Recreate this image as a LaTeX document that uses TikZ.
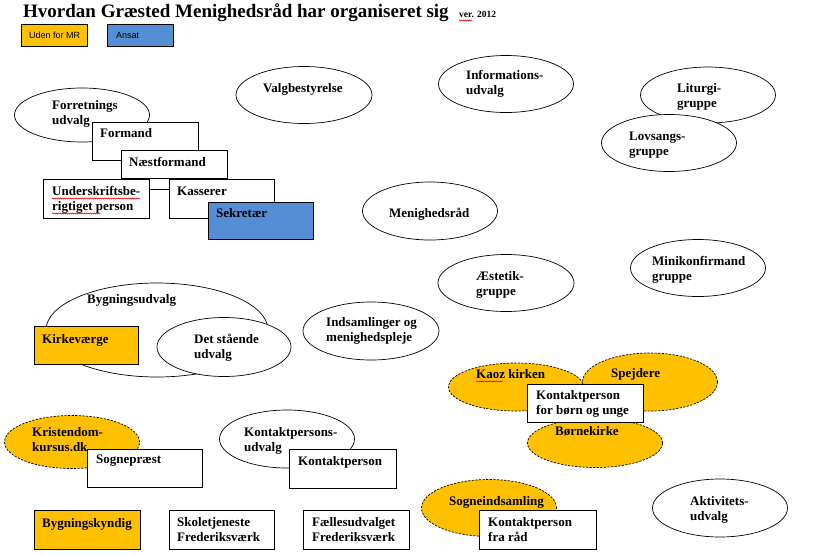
\documentclass[tikz,border=0pt]{standalone}
\usepackage{fontspec}
\setmainfont{Liberation Serif}
\newfontfamily\arialf{Liberation Sans}
\usetikzlibrary{shapes.geometric,decorations.pathmorphing}
\definecolor{mrorange}{HTML}{FFC000}
\definecolor{ansatblue}{HTML}{558ED5}
\tikzset{
  ell/.style={ellipse, draw=black, line width=0.7pt, fill=white, inner sep=0pt},
  dell/.style={ellipse, draw=black, line width=0.7pt, fill=mrorange, dash pattern=on 2.2pt off 1.4pt, inner sep=0pt},
  box/.style={rectangle, draw=black, line width=0.8pt, fill=white, inner sep=0pt, anchor=north west},
  obox/.style={box, fill=mrorange},
  bbox/.style={box, fill=ansatblue},
  txt/.style={inner sep=0pt, anchor=base west, align=left, font=\bfseries\fontsize{13}{15}\selectfont},
  legtxt/.style={inner sep=0pt, anchor=base west, font=\arialf\fontsize{9}{11}\selectfont},
  wavy/.style={draw=red, line width=0.4pt, decorate, decoration={zigzag, segment length=2pt, amplitude=0.6pt}},
  conn/.style={draw=black, line width=0.8pt}
}
\begin{document}
\begin{tikzpicture}[x=1pt,y=-1pt]
\useasboundingbox (0,0) rectangle (823,555);
\fill[white] (0,0) rectangle (823,555);

% title (multi-line nodes below are anchored at the baseline of their last line)
\node[inner sep=0pt, anchor=base west, font=\bfseries\fontsize{19}{22}\selectfont] (title) at (23,17) {Hvordan Græsted Menighedsråd har organiseret sig};
\node[inner sep=0pt, anchor=base west, font=\bfseries\fontsize{9.5}{11}\selectfont] (ver) at (459,17) {ver. 2012};
\draw[wavy] (459,20.5) -- (472,20.5);

% legend
\node[obox, minimum width=66pt, minimum height=22pt] (leg1) at (21,24) {};
\node[bbox, minimum width=66pt, minimum height=22pt] (leg2) at (107,24) {};
\node[legtxt] (leg1t) at (29,38) {Uden for MR};
\node[legtxt] (leg2t) at (116,38) {Ansat};

% top-left cluster
\node[ell, minimum width=135pt, minimum height=54pt] (forr) at (82,115) {};
\node[box, minimum width=106pt, minimum height=38pt] (formand) at (92,122) {};
\node[box, minimum width=106pt, minimum height=28pt] (naest) at (121,150) {};
\node[box, minimum width=106pt, minimum height=39pt] (under) at (43,179) {};
\node[box, minimum width=105pt, minimum height=39pt] (kass) at (169,179) {};
\node[bbox, minimum width=105pt, minimum height=37pt] (sekr) at (208,202) {};
\draw[conn] ([yshift=-10pt]under.north east) -- ([yshift=-10pt]kass.north west);
\node[txt] (forrt) at (52,124) {Forretnings\\udvalg};
\node[txt] (formandt) at (100,137) {Formand};
\node[txt] (naestt) at (129,166) {Næstformand};
\node[txt] (undert) at (52,210) {Underskriftsbe-\\rigtiget person};
\draw[wavy] (52,198.5) -- (140,198.5);
\draw[wavy] (52,213.5) -- (100,213.5);
\node[txt] (kasst) at (177,195) {Kasserer};
\node[txt] (sekrt) at (216,217) {Sekretær};

% single ellipses
\node[ell, minimum width=136pt, minimum height=57pt] (valg) at (304,95) {};
\node[txt] (valgt) at (263,92) {Valgbestyrelse};
\node[ell, minimum width=135pt, minimum height=57pt] (info) at (506,84) {};
\node[txt] (infot) at (466,94) {Informations-\\udvalg};
\node[ell, minimum width=135pt, minimum height=58pt] (mr) at (430,211) {};
\node[txt] (mrt) at (389,217) {Menighedsråd};
\node[ell, minimum width=136pt, minimum height=57pt] (aest) at (506,283) {};
\node[txt] (aestt) at (476,295) {Æstetik-\\gruppe};
\node[ell, minimum width=136pt, minimum height=58pt] (inds) at (371,331) {};
\node[txt] (indst) at (326,341) {Indsamlinger og\\menighedspleje};

% right side
\node[ell, minimum width=135pt, minimum height=56pt] (lit) at (708,95) {};
\node[txt] (litt) at (677,107) {Liturgi-\\gruppe};
\node[ell, minimum width=135pt, minimum height=57pt] (lov) at (669,143) {};
\node[txt] (lovt) at (629,155) {Lovsangs-\\gruppe};
\node[ell, minimum width=135pt, minimum height=57pt] (mini) at (698,268) {};
\node[txt] (minit) at (652,280) {Minikonfirmand\\gruppe};

% Bygningsudvalg cluster
\node[ell, minimum width=222pt, minimum height=94pt] (bygu) at (157,330) {};
\node[obox, minimum width=104pt, minimum height=38pt] (kirke) at (34,326) {};
\node[ell, minimum width=134pt, minimum height=59pt] (staa) at (224,347) {};
\node[txt] (bygut) at (87,303) {Bygningsudvalg};
\node[txt] (kirket) at (42,343) {Kirkeværge};
\node[txt] (staat) at (194,358) {Det stående\\udvalg};

% bottom-left
\node[dell, minimum width=135pt, minimum height=53pt] (krist) at (72,442) {};
\node[box, minimum width=115pt, minimum height=38pt] (sogn) at (87,449) {};
\node[txt] (kristt) at (32,451) {Kristendom-\\kursus.dk};
\node[txt] (sognt) at (96,463) {Sognepræst};
\node[ell, minimum width=135pt, minimum height=58pt] (kpu) at (287,439) {};
\node[box, minimum width=107pt, minimum height=39pt] (kp) at (289,449) {};
\node[txt] (kput) at (244,451) {Kontaktpersons-\\udvalg};
\node[txt] (kpt) at (298,465) {Kontaktperson};

\node[obox, minimum width=106pt, minimum height=39pt] (bygk) at (34,510) {};
\node[txt] (bygkt) at (42,527) {Bygningskyndig};
\node[box, minimum width=105pt, minimum height=39pt] (skole) at (169,510) {};
\node[txt] (skolet) at (177,541) {Skoletjeneste\\Frederiksværk};
\node[box, minimum width=106pt, minimum height=39pt] (faelles) at (303,510) {};
\node[txt] (faellest) at (312,541) {Fællesudvalget\\Frederiksværk};

% children cluster
\node[dell, minimum width=135pt, minimum height=48pt] (kaoz) at (516,387) {};
\node[dell, minimum width=135pt, minimum height=58pt] (spej) at (650,382) {};
\node[dell, minimum width=135pt, minimum height=49pt] (born) at (595,443) {};
\node[box, minimum width=116pt, minimum height=38pt] (kpbu) at (527,384) {};
\node[txt] (kaozt) at (476,378) {Kaoz kirken};
\draw[wavy] (476,381.5) -- (503,381.5);
\node[txt] (spejt) at (611,377) {Spejdere};
\node[txt] (bornt) at (555,435) {Børnekirke};
\node[txt] (kpbut) at (536,414) {Kontaktperson\\for børn og unge};

% Sogneindsamling
\node[dell, minimum width=135pt, minimum height=57pt] (sind) at (489,508) {};
\node[box, minimum width=117pt, minimum height=39pt] (kpfr) at (479,510) {};
\node[txt] (sindt) at (449,505) {Sogneindsamling};
\node[txt] (kpfrt) at (488,541) {Kontaktperson\\fra råd};

% Aktivitets
\node[ell, minimum width=135pt, minimum height=58pt] (akt) at (720,508) {};
\node[txt] (aktt) at (690,520) {Aktivitets-\\udvalg};
\end{tikzpicture}
\end{document}
